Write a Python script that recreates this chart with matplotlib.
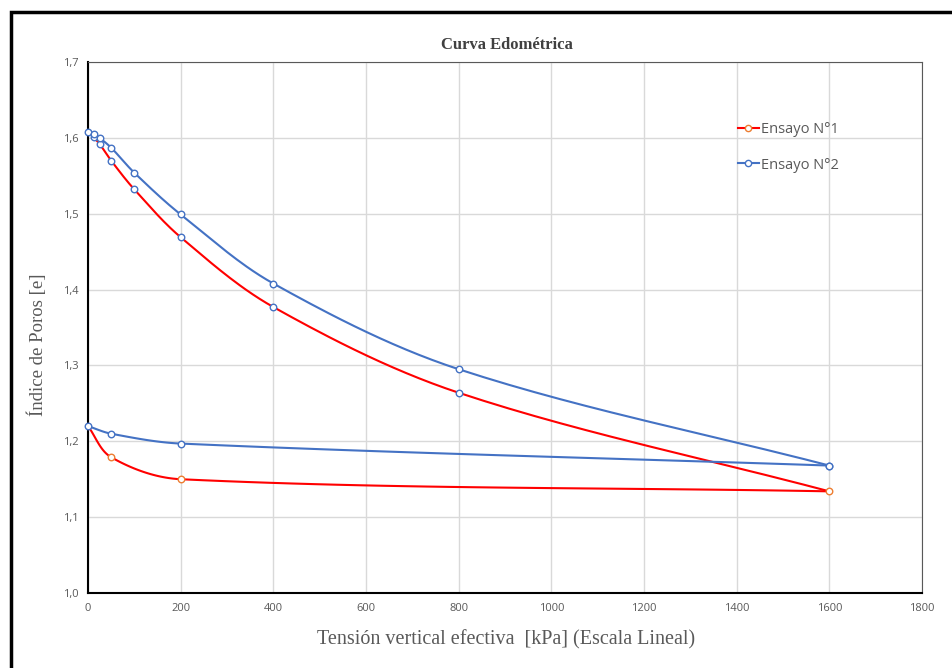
import numpy as np
import matplotlib
matplotlib.use('Agg')
import matplotlib.pyplot as plt
from matplotlib.lines import Line2D
from matplotlib.patches import Rectangle

# === DATOS ===
# Ensayo N°1: carga y descarga
x_e1_carga = [12.5, 25, 50, 100, 200, 400, 800, 1600]
e_e1_carga = [1.601, 1.592, 1.570, 1.532, 1.469, 1.377, 1.264, 1.134]
x_e1_desc = [1600, 200, 50, 0]
e_e1_desc = [1.134, 1.150, 1.179, 1.220]
# Ensayo N°2: carga y descarga
x_e2_carga = [0, 12.5, 25, 50, 100, 200, 400, 800, 1600]
e_e2_carga = [1.608, 1.605, 1.600, 1.587, 1.554, 1.499, 1.408, 1.295, 1.168]
x_e2_desc = [1600, 200, 50, 0]
e_e2_desc = [1.168, 1.197, 1.210, 1.220]

x_ticks = [0, 200, 400, 600, 800, 1000, 1200, 1400, 1600, 1800]
y_ticks = [1.0, 1.1, 1.2, 1.3, 1.4, 1.5, 1.6, 1.7]
y_labels = ['1,0', '1,1', '1,2', '1,3', '1,4', '1,5', '1,6', '1,7']

RED = '#FF0000'
BLUE = '#4472C4'
ORANGE = '#ED7D31'
GRAY = '#595959'

sx = 834 / 1800
sy = 531 / 0.7


def smooth(xs, ys, n=30):
    # curva suavizada (Bezier, tangentes unitarias, sin sobrepaso)
    p = np.column_stack([np.array(xs) * sx, np.array(ys) * sy])
    m = len(p)
    tang = []
    for i in range(m):
        a = p[i - 1] if i > 0 else p[i]
        b = p[i + 1] if i < m - 1 else p[i]
        d = b - a
        tang.append(d / np.linalg.norm(d))
    out = []
    for i in range(m - 1):
        p1, p2 = p[i], p[i + 1]
        L = np.linalg.norm(p2 - p1) / 3
        c1 = p1 + tang[i] * L
        c2 = p2 - tang[i + 1] * L
        t = np.linspace(0, 1, n)[:, None]
        seg = (1 - t) ** 3 * p1 + 3 * (1 - t) ** 2 * t * c1 + 3 * (1 - t) * t ** 2 * c2 + t ** 3 * p2
        out.append(seg)
    out = np.vstack(out)
    return out[:, 0] / sx, out[:, 1] / sy


fig = plt.figure(figsize=(9.52, 6.68), dpi=100)
ax = fig.add_axes([88 / 952, 1 - 593 / 668, (922 - 88) / 952, (593 - 62) / 668])

for xv, ev, c in [(x_e1_carga, e_e1_carga, RED), (x_e1_desc, e_e1_desc, RED),
                  (x_e2_carga, e_e2_carga, BLUE), (x_e2_desc, e_e2_desc, BLUE)]:
    xs, ys = smooth(xv, ev)
    ax.plot(xs, ys, color=c, lw=1.5, zorder=3, solid_capstyle='round')

# marcadores
ax.scatter(x_e1_carga[:-1], e_e1_carga[:-1], s=22, facecolors='white', edgecolors=BLUE,
           linewidths=1, zorder=4, clip_on=False)
ax.scatter(x_e1_desc[:-1], e_e1_desc[:-1], s=22, facecolors='white', edgecolors=ORANGE,
           linewidths=1, zorder=4, clip_on=False)
ax.scatter(x_e2_carga + x_e2_desc, e_e2_carga + e_e2_desc, s=22, facecolors='white',
           edgecolors=BLUE, linewidths=1, zorder=5, clip_on=False)

ax.set_xlim(0, 1800)
ax.set_ylim(1.0, 1.7)
ax.set_xticks(x_ticks)
ax.set_yticks(y_ticks)
ax.set_yticklabels(y_labels)
ax.tick_params(length=0, labelsize=8, labelcolor=GRAY)
ax.tick_params(axis='y', pad=7)
ax.tick_params(axis='x', pad=7)
for lab in ax.get_xticklabels() + ax.get_yticklabels():
    lab.set_fontfamily('Open Sans')
ax.grid(True, color='#d9d9d9', lw=1)
ax.set_axisbelow(True)
ax.spines['left'].set_color('black')
ax.spines['left'].set_linewidth(1.5)
ax.spines['bottom'].set_color('black')
ax.spines['bottom'].set_linewidth(1.5)
ax.spines['top'].set_color(GRAY)
ax.spines['right'].set_color(GRAY)

fig.text(507 / 952, 1 - 45 / 668, 'Curva Edométrica', ha='center', va='center',
         fontfamily='Liberation Serif', fontweight='bold', fontsize=12, color='#404040')
fig.text(506 / 952, 1 - 640 / 668, 'Tensión vertical efectiva  [kPa] (Escala Lineal)', ha='center', va='center',
         fontfamily='Liberation Serif', fontsize=14.5, color=GRAY)
fig.text(37 / 952, 1 - 345 / 668, 'Índice de Poros [e]', ha='center', va='center', rotation=90,
         fontfamily='Liberation Serif', fontsize=13.5, color=GRAY)

handles = [
    Line2D([], [], color=RED, lw=1.5, marker='o', ms=4.5, mfc='white', mec=ORANGE),
    Line2D([], [], color=BLUE, lw=1.5, marker='o', ms=4.5, mfc='white', mec=BLUE),
]
leg = ax.legend(handles, ['Ensayo N°1', 'Ensayo N°2'], loc='upper left',
                bbox_to_anchor=((725 - 88) / 834, 1 - (109 - 62) / 531),
                frameon=False, handlelength=1.4, handletextpad=0.2, labelspacing=1.4,
                prop={'family': 'Open Sans', 'size': 10.5})
for t in leg.get_texts():
    t.set_color(GRAY)

# marco exterior
fig.patches.append(Rectangle((11 / 952, -0.05), 1.2, 1 - 12 / 668 + 0.05, transform=fig.transFigure,
                             fill=False, edgecolor='black', lw=2.5))

fig.savefig('out.png', dpi=100)
